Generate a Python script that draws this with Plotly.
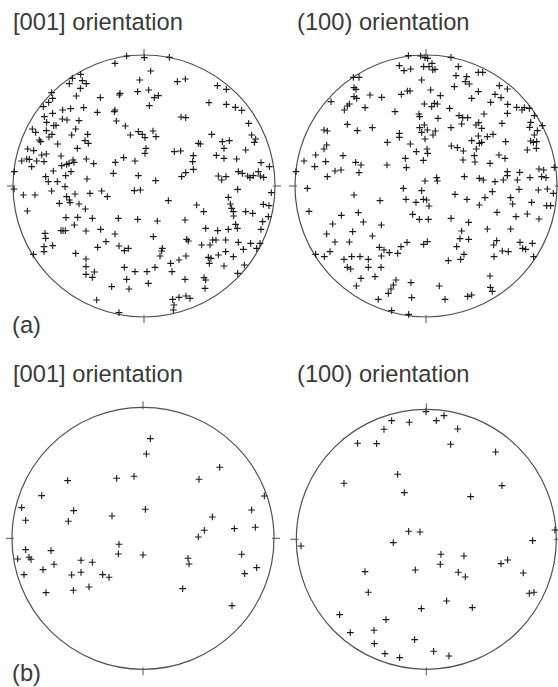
import plotly.graph_objects as go

# Pole-figure projected coordinates (units: primitive circle radius ~392)
# (a) [001] orientation
a001 = [
(-52,390),(1,385),(76,386),(-87,368),(20,345),(-190,335),(-215,323),(-185,316),(-173,307),(-224,307),
(-13,318),(100,313),(124,321),(-191,293),(-277,280),(-203,270),(-72,278),(-74,273),(-19,283),(14,288),
(31,265),(43,271),(220,301),(247,290),(-274,263),(-286,251),(-302,238),(-131,265),(195,250),(247,245),
(274,236),(293,227),(16,241),(-244,228),(-220,232),(-181,235),(-87,228),(-89,223),(-140,221),(-274,218),
(-299,208),(-292,191),(-245,201),(-231,198),(-195,196),(-264,182),(-271,181),(111,207),(125,205),(-83,195),
(314,188),(-335,171),(-325,161),(-293,166),(-276,155),(-285,147),(-205,171),(-217,153),(-169,155),(-56,180),
(-41,153),(-17,163),(-5,155),(3,145),(27,165),(36,148),(203,155),(323,153),(335,141),(331,131),
(-314,138),(-310,133),(-177,136),(-167,128),(-259,126),(163,128),(169,126),(235,133),(256,136),(240,113),
(-349,111),(-331,106),(-307,93),(-293,96),(-200,113),(6,113),(3,98),(91,103),(110,105),(148,91),
(305,108),(-367,75),(-352,81),(-344,80),(-322,75),(-300,73),(-249,90),(-213,78),(-210,71),(-173,81),
(-151,67),(-86,71),(-61,85),(-27,75),(146,73),(217,92),(240,83),(278,81),(351,70),(376,58),
(-337,58),(-247,61),(-232,65),(-225,68),(-389,43),(-272,45),(-219,43),(-235,31),(-295,28),(-171,21),
(-92,38),(-17,31),(35,16),(113,28),(125,40),(148,50),(223,30),(233,18),(246,28),(283,43),
(295,38),(311,30),(318,25),(328,31),(343,43),(349,30),(359,26),(-287,13),(-260,13),
(-390,-9),(-362,-27),(-327,-27),(-237,-2),(-277,-15),(-232,-32),(-224,-42),(-207,-24),(-222,-50),(-254,-52),
(-195,-54),(-162,-22),(-127,-15),(-110,-32),(-29,-14),(-11,-12),(73,-44),(253,-34),(281,-10),(382,-20),
(-350,-75),(-176,-69),(259,-54),(263,-67),(158,-57),(179,-77),(268,-77),(269,-90),(305,-77),(326,-82),
(358,-55),(375,-59),(373,-92),(356,-107),(-234,-95),(-199,-94),(-155,-97),(-77,-97),(-19,-100),(40,-105),
(123,-102),(-209,-117),(-249,-134),(-243,-134),(-236,-134),(-174,-135),(-130,-130),(-87,-144),(-297,-142),(-295,-157),
(28,-152),(185,-127),(221,-134),(253,-130),(275,-115),(280,-127),(351,-130),(-300,-182),(-300,-197),(-274,-179),
(-332,-205),(-205,-202),(-174,-219),(-139,-184),(-114,-167),(-75,-180),(-59,-194),(-47,-187),(55,-187),(53,-195),
(48,-210),(128,-160),(133,-165),(206,-162),(216,-162),(173,-177),(198,-177),(245,-162),(283,-169),(320,-172),
(348,-172),(298,-190),(338,-187),(245,-197),(268,-212),(223,-207),(193,-214),(201,-217),(196,-232),(240,-240),
(301,-237),(281,-262),(80,-232),(105,-222),(126,-210),(33,-244),(9,-257),(-27,-257),(-59,-244),(-174,-242),
(-174,-265),(-149,-258),(-155,-274),(-52,-280),(13,-292),(84,-257),(123,-280),(180,-275),(185,-282),(183,-307),
(-97,-302),(-45,-309),(-142,-342),(86,-340),(105,-334),(126,-330),(138,-337),(90,-357),(88,-372),(-75,-380),
]

# (a) (100) orientation
a100 = [
(-53,391),(-16,390),(-3,385),(5,383),(75,386),(-80,361),(-66,346),(-46,351),(-7,358),(9,358),
(18,368),(27,350),(20,348),(97,358),(157,341),(170,341),(-218,326),(-201,326),(-13,318),(90,331),
(122,328),(118,313),(130,306),(-216,295),(-210,290),(-168,273),(-133,266),(-74,275),(-56,285),(-48,285),
(14,288),(43,271),(85,298),(137,263),(157,283),(207,275),(220,301),(225,265),(244,291),(-216,268),
(-208,263),(-285,253),(-230,246),(-236,240),(-245,228),(-183,235),(-93,223),(-5,246),(17,238),(25,248),
(34,246),(71,233),(194,251),(245,245),(272,236),(288,228),(295,235),(310,233),(244,218),(174,216),
(325,211),(-21,216),(-19,208),(36,203),(99,211),(110,205),(125,205),(107,186),(75,175),(150,183),
(158,190),(167,173),(228,188),(314,191),(349,181),(311,176),(334,166),(325,153),(-306,168),(-296,165),
(-236,185),(-206,166),(-161,175),(-19,175),(-13,161),(-5,183),(4,168),(28,165),(21,153),(-3,141),
(-80,158),(-80,146),(-116,131),(-47,126),(157,150),(184,148),(201,155),(160,128),(167,131),(137,136),
(239,133),(314,135),(322,131),(332,133),(-298,123),(-306,111),(-331,93),(-249,91),(-366,75),(-334,58),
(-301,73),(-211,71),(-195,63),(-117,63),(-62,83),(-59,55),(-29,103),(3,111),(5,98),(-8,77),
(76,120),(94,115),(112,105),(151,111),(145,91),(147,72),(111,78),(219,93),(237,83),(192,68),
(304,108),(331,113),(-390,43),(-296,28),(-273,45),(-255,48),(-201,40),(-3,15),(32,25),(34,15),
(115,28),(160,23),(172,18),(207,13),(232,18),(244,43),(244,31),(274,18),(281,41),(312,25),
(339,51),(353,48),(347,28),(360,25),(385,56),
(-356,-7),(-216,-27),(-138,-44),(-68,-7),(-13,-14),(-60,-40),(-30,-49),(-8,-40),(2,-42),(9,-60),
(87,-25),(123,-40),(160,-57),(177,-35),(199,-17),(279,-10),(254,-35),(260,-54),(317,-49),(337,-12),
(364,-9),(382,-22),(362,-59),(374,-59),(-351,-76),(-254,-88),(-203,-80),(-188,-108),(-134,-117),(-280,-114),
(-40,-85),(-20,-100),(7,-100),(75,-97),(128,-109),(213,-79),(270,-92),(304,-84),(339,-99),(-298,-144),
(-220,-137),(-273,-168),(-230,-168),(-161,-150),(-140,-184),(-126,-192),(-110,-200),(-85,-202),(-75,-182),(-57,-169),
(-7,-175),(4,-167),(107,-135),(102,-158),(128,-160),(92,-182),(184,-129),(254,-129),(203,-177),(212,-164),
(229,-195),(247,-197),(282,-169),(290,-187),(299,-190),(319,-172),(323,-212),(-331,-205),(-305,-212),(-288,-197),
(-246,-220),(-223,-212),(-198,-212),(-173,-220),(-134,-210),(-135,-244),(-173,-244),(-236,-244),(-226,-249),(-195,-277),
(-153,-272),(-209,-300),(-90,-282),(-98,-297),(-105,-309),(-113,-322),(-45,-290),(-143,-340),(-43,-335),(-103,-374),
(-52,-385),(40,-300),(57,-340),(67,-224),(104,-220),(114,-205),(204,-212),(192,-270),(193,-304),(199,-316),
(125,-331),(137,-327),
]

# (b) [001] orientation
b001 = [
(22,299),(10,253),(230,213),(-226,173),(-79,180),(-27,186),(168,177),(-304,128),(364,127),(-364,92),
(-208,83),(7,87),(326,85),(-352,54),(-224,51),(-93,67),(208,64),(274,29),(337,33),(184,24),
(166,4),(-72,-18),(-352,-34),(-276,-37),(-74,-47),(0,-50),(296,-48),(-376,-62),(-342,-57),(-336,-63),
(-267,-78),(-186,-66),(-152,-72),(135,-60),(138,-77),(-357,-109),(-300,-94),(-214,-110),(-186,-102),(-121,-109),
(-102,-117),(305,-106),(341,-88),(-291,-163),(-209,-156),(-162,-146),(119,-151),(267,-202),
]

# (b) (100) orientation
b100 = [
(-1,383),(53,371),(30,356),(-104,356),(-51,351),(-127,330),(94,331),(-206,288),(-149,287),(73,285),
(208,262),(-86,195),(-247,168),(227,161),(-66,140),(133,128),(386,28),(-53,24),(-19,22),(319,-4),
(-376,-20),(-99,-10),(44,-45),(113,-50),(42,-75),(224,-73),(244,-62),(-184,-97),(-33,-92),(96,-99),
(117,-113),(291,-101),(-174,-159),(309,-162),(323,-159),(61,-185),(-15,-208),(138,-205),(-260,-226),(-121,-241),
(-228,-280),(-157,-273),(-156,-313),(-35,-301),(-124,-343),(-80,-355),(22,-336),(68,-350),
]

titles = ["[001] orientation", "(100) orientation", "[001] orientation", "(100) orientation"]
panel_labels = ["(a)", "(b)"]

W, H = 558, 687
UNITS_PER_PX = 3.0

# panel geometry: (centre px x, centre px y, radius units, box px x0, x1, y0, y1)
panels = [
    (144.0, 186.0, 393, 2, 286, 44, 328),
    (426.0, 186.0, 393, 288, 558, 44, 328),
    (143.0, 538.3, 393, 2, 284, 396, 680),
    (426.3, 539.3, 390, 288, 558, 396, 680),
]
datasets = [a001, a100, b001, b100]

fig = go.Figure()
shapes = []
CIRCLE_COL = "#505050"
for i, ((cx, cy, R, x0, x1, y0, y1), pts) in enumerate(zip(panels, datasets), start=1):
    xa = "x" if i == 1 else f"x{i}"
    ya = "y" if i == 1 else f"y{i}"
    fig.add_trace(go.Scatter(
        x=[p[0] for p in pts], y=[p[1] for p in pts], mode="markers",
        marker=dict(symbol="cross-thin", size=4.8, color="#1a1a1a",
                    line=dict(width=1.1, color="#1a1a1a")),
        xaxis=xa, yaxis=ya, showlegend=False, hoverinfo="skip"))
    axx = dict(domain=[x0 / W, x1 / W],
               range=[(x0 - cx) * UNITS_PER_PX, (x1 - cx) * UNITS_PER_PX],
               visible=False, fixedrange=True)
    axy = dict(domain=[(H - y1) / H, (H - y0) / H],
               range=[(cy - y1) * UNITS_PER_PX, (cy - y0) * UNITS_PER_PX],
               visible=False, fixedrange=True)
    fig.update_layout(**{("xaxis" if i == 1 else f"xaxis{i}"): axx,
                         ("yaxis" if i == 1 else f"yaxis{i}"): axy})
    shapes.append(dict(type="circle", xref=xa, yref=ya, x0=-R, y0=-R, x1=R, y1=R,
                       line=dict(color=CIRCLE_COL, width=1.2), layer="below"))
    tin, tout = R - 6, R + 18
    for (ax0, ay0, ax1, ay1) in [(0, tin, 0, tout), (0, -tin, 0, -tout),
                                 (-tin, 0, -tout, 0), (tin, 0, tout, 0)]:
        shapes.append(dict(type="line", xref=xa, yref=ya, x0=ax0, y0=ay0, x1=ax1, y1=ay1,
                           line=dict(color=CIRCLE_COL, width=1)))

TXT = dict(family="Liberation Sans, Arial, sans-serif", size=23.7, color="#3a3a3a")
ann = []
title_pos = [(12, 22), (296, 22), (12, 374), (296, 374)]
for t, (px, py) in zip(titles, title_pos):
    ann.append(dict(text=t, x=px / W, y=1 - py / H, xref="paper", yref="paper",
                    xanchor="left", yanchor="middle", showarrow=False, font=TXT, borderpad=0))
for t, (px, py) in zip(panel_labels, [(11, 325), (11, 673)]):
    ann.append(dict(text=t, x=px / W, y=1 - py / H, xref="paper", yref="paper",
                    xanchor="left", yanchor="middle", showarrow=False, font=TXT, borderpad=0))

fig.update_layout(width=W, height=H, margin=dict(l=0, r=0, t=0, b=0),
                  paper_bgcolor="white", plot_bgcolor="rgba(0,0,0,0)",
                  shapes=shapes, annotations=ann, hovermode=False)
fig.write_html("out.html", config={"displayModeBar": False, "staticPlot": True},
               post_script="document.body.style.margin='0';document.body.style.overflow='hidden';")
